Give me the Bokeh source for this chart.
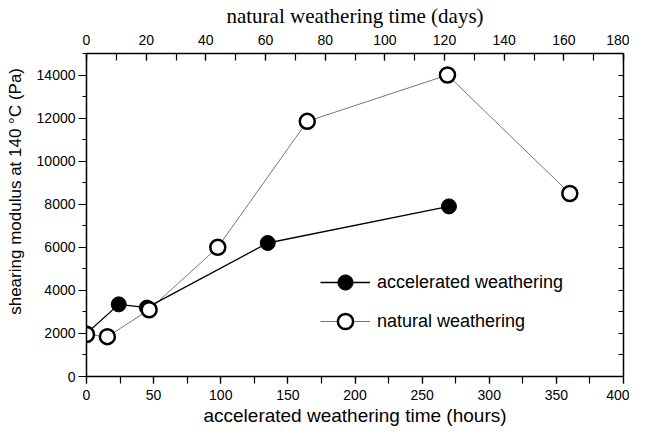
from bokeh.plotting import figure
from bokeh.models import Range1d, LinearAxis, FixedTicker, Legend, LegendItem
from bokeh.embed import file_html
from bokeh.resources import INLINE

# accelerated weathering (bottom axis, hours)
acc_hours = [0, 24, 45, 135, 270]
acc_modulus = [2000, 3350, 3200, 6200, 7900]
# natural weathering (top axis, days)
nat_days = [0, 7, 21, 44, 74, 121, 162]
nat_modulus = [1950, 1850, 3100, 6000, 11850, 14000, 8500]

hour_ticks = [0, 50, 100, 150, 200, 250, 300, 350, 400]
day_ticks = [0, 20, 40, 60, 80, 100, 120, 140, 160, 180]
mod_ticks = [0, 2000, 4000, 6000, 8000, 10000, 12000, 14000]

SANS = "Liberation Sans"
SERIF = "Liberation Serif"

p = figure(width=629, height=428, output_backend="svg", toolbar_location=None,
           x_range=Range1d(0, 400), y_range=Range1d(0, 15000),
           x_axis_location=None, y_axis_location=None,
           min_border_left=86, min_border_right=6, min_border_top=53, min_border_bottom=49)
p.extra_x_ranges = {"days": Range1d(0, 180)}
p.xgrid.visible = False
p.ygrid.visible = False
p.outline_line_color = None
p.background_fill_color = "white"
p.border_fill_color = "white"


def style(ax, size="14px"):
    ax.axis_line_color = "black"
    ax.axis_line_width = 1.5
    ax.major_tick_line_color = "black"
    ax.minor_tick_line_color = "black"
    ax.major_tick_line_width = 1.2
    ax.minor_tick_line_width = 1.2
    ax.major_label_text_font = SANS
    ax.major_label_text_font_size = size
    ax.major_label_text_color = "black"
    ax.axis_label_text_font_style = "normal"
    ax.axis_label_text_color = "black"


bottom = LinearAxis(ticker=FixedTicker(ticks=hour_ticks,
                                       minor_ticks=list(range(0, 401, 25))))
style(bottom)
bottom.major_tick_out = 7
bottom.major_tick_in = 0
bottom.minor_tick_out = 7
bottom.minor_tick_in = 0
bottom.major_label_standoff = 6
bottom.axis_label = "accelerated weathering time (hours)"
bottom.axis_label_text_font = SANS
bottom.axis_label_text_font_size = "19px"
bottom.axis_label_standoff = 2
p.add_layout(bottom, "below")

top = LinearAxis(x_range_name="days",
                 ticker=FixedTicker(ticks=day_ticks, minor_ticks=list(range(0, 181, 10))))
style(top)
top.major_tick_out = 0
top.major_tick_in = 7
top.minor_tick_out = 0
top.minor_tick_in = 7
top.major_label_standoff = 9
top.axis_label = "natural weathering time (days)"
top.axis_label_text_font = SERIF
top.axis_label_text_font_size = "21px"
top.axis_label_standoff = 4
p.add_layout(top, "above")

left = LinearAxis(ticker=FixedTicker(ticks=mod_ticks,
                                     minor_ticks=list(range(0, 15001, 1000))))
style(left)
left.major_tick_out = 8
left.major_tick_in = 0
left.minor_tick_out = 4
left.minor_tick_in = 0
left.major_label_standoff = 3
left.axis_label = "\u00a0" * 11 + "shearing modulus at 140 °C  (Pa)"
left.axis_label_text_font = SANS
left.axis_label_text_font_size = "17px"
left.axis_label_standoff = 9
p.add_layout(left, "left")

right = LinearAxis(ticker=FixedTicker(ticks=[],
                                      minor_ticks=list(range(0, 15001, 1000))))
style(right)
right.minor_tick_out = 0
right.minor_tick_in = 5
p.add_layout(right, "right")

nat_line = p.line(nat_days, nat_modulus, x_range_name="days",
                  line_color="#777777", line_width=1)
acc_line = p.line(acc_hours, acc_modulus, line_color="black", line_width=1.3)
acc_pts = p.scatter(acc_hours, acc_modulus, size=15, marker="circle",
                    fill_color="black", line_color="black")
nat_pts = p.scatter(nat_days, nat_modulus, x_range_name="days", size=15,
                    marker="circle", fill_color="white", line_color="black",
                    line_width=2.5)

legend = Legend(items=[
    LegendItem(label="accelerated weathering", renderers=[acc_line, acc_pts]),
    LegendItem(label="natural weathering", renderers=[nat_line, nat_pts]),
], location=(234, 36))
legend.label_text_font = SANS
legend.label_text_font_size = "18px"
legend.label_text_color = "black"
legend.glyph_width = 50
legend.glyph_height = 38
legend.label_height = 38
legend.spacing = 1
legend.padding = 0
legend.margin = 0
legend.label_standoff = 7
legend.border_line_color = None
legend.background_fill_alpha = 0
p.add_layout(legend)

open("out.html", "w").write(file_html(p, INLINE))
